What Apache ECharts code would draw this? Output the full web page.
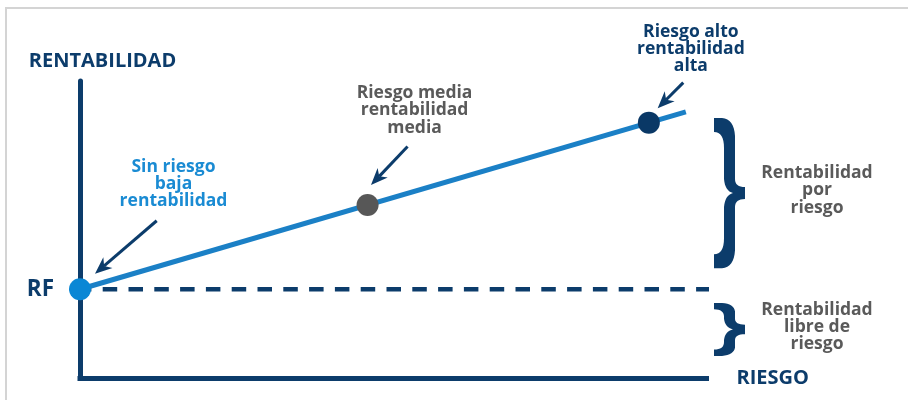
<!DOCTYPE html>
<html>
<head>
<meta charset="utf-8">
<script src="https://cdn.jsdelivr.net/npm/echarts@6/dist/echarts.min.js"></script>
<style>
  html, body { margin: 0; padding: 0; background: #ffffff; }
  #chart { width: 908px; height: 400px; }
</style>
</head>
<body>
<div id="chart"></div>
<script>
// Risk (x) / return (y) values for the three portfolios
const pointNames = ['Sin riesgo', 'Riesgo media', 'Riesgo alto'];
const riskValues = [0, 45.9, 90.8];
const returnValues = [30, 58.3, 86.0];
const pointLabels = [
  'Sin riesgo\nbaja\nrentabilidad',
  'Riesgo media\nrentabilidad\nmedia',
  'Riesgo alto\nrentabilidad\nalta'
];

// Risk-free return level and the risk/return line
const riskFreeReturn = 30;
const riskFreeLineEnd = 100.5;
const lineRisk = [0, 96.7];
const lineReturn = [30, 89.6];

// Return ranges marked with braces on the right
const braceRanges = [[37.1, 87.6], [7.6, 25.4]];
const braceLabels = ['Rentabilidad\npor\nriesgo', 'Rentabilidad\nlibre de\nriesgo'];

// Axis texts
const axisNames = ['RIESGO', 'RENTABILIDAD'];
const riskFreeTick = 'RF';

const NAVY = '#0c3c6b';
const BLUE = '#1b80c6';
const LIGHT_BLUE = '#0a87d5';
const GRAY = '#5a5a5a';
const FONT = "'Open Sans', 'Noto Sans', sans-serif";
const pointColors = [LIGHT_BLUE, '#575757', '#0a3866'];
const labelColors = ['#1a8bd3', GRAY, NAVY];
const LABEL_FONT = `bold 17.5px ${FONT}`;

const chart = echarts.init(document.getElementById('chart'), null, { renderer: 'canvas' });

chart.setOption({
  animation: false,
  backgroundColor: '#ffffff',
  grid: { left: 80, right: 201.5, top: 81, bottom: 21.5 },
  xAxis: {
    type: 'value', min: 0, max: 100,
    name: axisNames[0], nameLocation: 'end', nameGap: 30,
    nameTextStyle: { color: NAVY, fontFamily: FONT, fontWeight: 'bold', fontSize: 20, align: 'left', verticalAlign: 'middle' },
    axisLine: { show: true, lineStyle: { color: NAVY, width: 5, cap: 'square' } },
    axisTick: { show: false }, axisLabel: { show: false }, splitLine: { show: false }
  },
  yAxis: {
    type: 'value', min: 0, max: 100, interval: riskFreeReturn,
    name: axisNames[1], nameLocation: 'end', nameGap: 9.5,
    nameTextStyle: { color: NAVY, fontFamily: FONT, fontWeight: 'bold', fontSize: 20, align: 'center', verticalAlign: 'bottom', padding: [0, 0, 0, 45] },
    axisLine: { show: true, lineStyle: { color: NAVY, width: 5 } },
    axisTick: { show: false }, splitLine: { show: false },
    axisLabel: {
      show: true, margin: 26, color: NAVY, fontFamily: FONT, fontWeight: 'bold', fontSize: 22.5,
      formatter: v => (v === riskFreeReturn ? riskFreeTick : '')
    }
  },
  series: [
    {
      name: 'Rentabilidad libre de riesgo', type: 'line', silent: true, clip: false, symbol: 'none',
      data: [[0, riskFreeReturn], [riskFreeLineEnd, riskFreeReturn]],
      lineStyle: { color: NAVY, width: 4.3, type: [14.5, 11.3], dashOffset: 3.1 }, z: 1
    },
    {
      name: 'Rentabilidad / riesgo', type: 'line', silent: true, symbol: 'none',
      data: lineRisk.map((x, i) => [x, lineReturn[i]]),
      lineStyle: { color: BLUE, width: 5 }, z: 2
    },
    {
      name: 'Carteras', type: 'scatter', symbolSize: 22, z: 3,
      data: riskValues.map((x, i) => ({
        name: pointNames[i], value: [x, returnValues[i]], itemStyle: { color: pointColors[i], opacity: 1 }
      }))
    }
  ]
});

const px = (x, y) => chart.convertToPixel({ gridIndex: 0 }, [x, y]);

// Quadratic bezier sampled into polygon points
function quad(p0, c, p1, n) {
  const pts = [];
  for (let i = 1; i <= n; i++) {
    const t = i / n, a = (1 - t) * (1 - t), b = 2 * (1 - t) * t, d = t * t;
    pts.push([a * p0[0] + b * c[0] + d * p1[0], a * p0[1] + b * c[1] + d * p1[1]]);
  }
  return pts;
}

// Right-facing curly brace outline between pixel rows T and B
function bracePoints(L, T, B) {
  const H = B - T, M = (T + B) / 2;
  const c = Math.min(18, H * 0.16), c2 = Math.min(30, H * 0.26), c3 = Math.min(14, H * 0.12);
  const tipIn = Math.min(14, H * 0.2), t = Math.min(6, H * 0.09);
  let pts = [[L, T], [L + 8, T]];
  pts = pts.concat(quad([L + 8, T], [L + 20, T + 1], [L + 21, T + c], 8));
  pts.push([L + 21, M - tipIn]);
  pts = pts.concat(quad([L + 21, M - tipIn], [L + 21, M - t], [L + 31, M - t], 8));
  pts.push([L + 31, M + t]);
  pts = pts.concat(quad([L + 31, M + t], [L + 21, M + t], [L + 21, M + tipIn], 8));
  pts.push([L + 21, B - c]);
  pts = pts.concat(quad([L + 21, B - c], [L + 20, B - 1], [L + 8, B], 8));
  pts.push([L, B], [L, B - c3]);
  pts = pts.concat(quad([L, B - c3], [L + 10, B - c3], [L + 10, B - c2], 8));
  pts.push([L + 10, M + tipIn]);
  pts = pts.concat(quad([L + 10, M + tipIn], [L + 11, M + 2], [L + 19, M], 8));
  pts = pts.concat(quad([L + 19, M], [L + 11, M - 2], [L + 10, M - tipIn], 8));
  pts.push([L + 10, T + c2]);
  pts = pts.concat(quad([L + 10, T + c2], [L + 10, T + c3], [L, T + c3], 8));
  return pts;
}

// Arrow with a notched head, pointing from tail to tip
function arrow(tip, tail) {
  const dx = tail[0] - tip[0], dy = tail[1] - tip[1];
  const len = Math.hypot(dx, dy), ux = dx / len, uy = dy / len, nx = -uy, ny = ux;
  const headLen = 17, headW = 7, notch = 12;
  const base = [tip[0] + ux * headLen, tip[1] + uy * headLen];
  const inner = [tip[0] + ux * notch, tip[1] + uy * notch];
  return [
    { type: 'line', z: 50, shape: { x1: tail[0], y1: tail[1], x2: inner[0], y2: inner[1] }, style: { stroke: NAVY, lineWidth: 3 } },
    { type: 'polygon', z: 50, shape: { points: [tip, [base[0] + nx * headW, base[1] + ny * headW], inner, [base[0] - nx * headW, base[1] - ny * headW]] }, style: { fill: NAVY } }
  ];
}

// Annotation placement relative to each point (pixels)
const labelOffsets = [[93.5, -131], [47, -120.5], [42, -99.5]];
const arrowOffsets = [
  { tip: [15, -15.5], tail: [76.7, -68.5] },
  { tip: [3.4, -20], tail: [40, -58.5] },
  { tip: [8.8, -14.4], tail: [34.4, -40] }
];

const graphics = [
  { type: 'rect', z: 0, shape: { x: 6, y: 8, width: 1000, height: 600 }, style: { fill: null, stroke: '#d4d4d4', lineWidth: 2 } }
];

riskValues.forEach((x, i) => {
  const p = px(x, returnValues[i]);
  graphics.push({
    type: 'text', z: 60, x: p[0] + labelOffsets[i][0], y: p[1] + labelOffsets[i][1],
    style: { text: pointLabels[i], fill: labelColors[i], font: LABEL_FONT, align: 'center', verticalAlign: 'top', lineHeight: 17.3 }
  });
  const a = arrowOffsets[i];
  graphics.push(...arrow([p[0] + a.tip[0], p[1] + a.tip[1]], [p[0] + a.tail[0], p[1] + a.tail[1]]));
});

const braceLeft = px(100, 0)[0] + 7.5;
braceRanges.forEach((r, i) => {
  const top = px(0, r[1])[1], bottom = px(0, r[0])[1];
  graphics.push({ type: 'polygon', z: 40, shape: { points: bracePoints(braceLeft, top, bottom) }, style: { fill: NAVY } });
  graphics.push({
    type: 'text', z: 60, x: braceLeft + 103, y: (top + bottom) / 2 - 2.5,
    style: { text: braceLabels[i], fill: GRAY, font: LABEL_FONT, align: 'center', verticalAlign: 'middle', lineHeight: 17.3 }
  });
});

chart.setOption({ graphic: graphics });
</script>
</body>
</html>
